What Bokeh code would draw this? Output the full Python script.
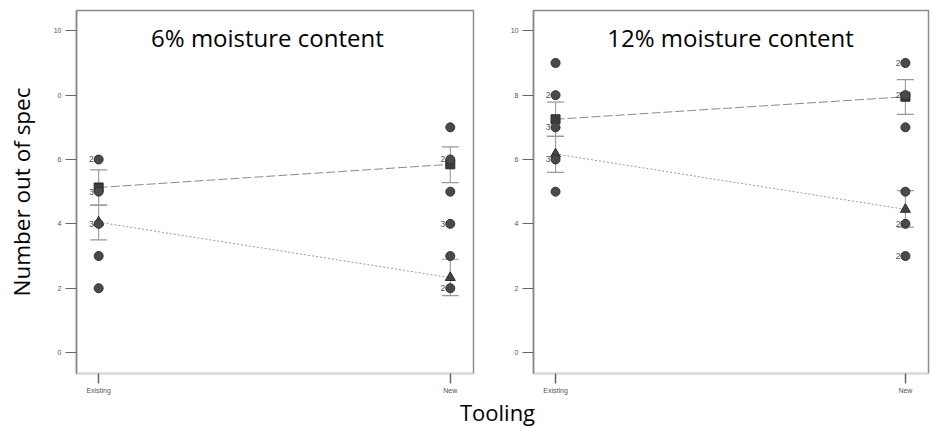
from bokeh.plotting import figure
from bokeh.models import FixedTicker, Label, ColumnDataSource
from bokeh.layouts import row, column
from bokeh.embed import file_html
from bokeh.resources import INLINE

# ---------------- data ----------------
tooling = ["Existing", "New"]
moisture = ["6% moisture content", "12% moisture content"]
y_ticks = [0, 2, 4, 6, 8, 10]

# observed values (circles) and how many runs share each value
obs6_existing = [6, 5, 4, 3, 2]
n6_existing = [2, 3, 3, 1, 1]
obs6_new = [7, 6, 5, 4, 3, 2]
n6_new = [1, 2, 1, 3, 1, 2]
obs12_existing = [9, 8, 7, 6, 5]
n12_existing = [1, 2, 3, 3, 1]
obs12_new = [9, 8, 7, 5, 4, 3]
n12_new = [2, 2, 1, 1, 2, 2]

# group means (square / dashed and triangle / dotted) with error bars
mean_sq_6 = [5.13, 5.85]
lo_sq_6 = [4.58, 5.28]
hi_sq_6 = [5.68, 6.39]
mean_tri_6 = [4.05, 2.33]
lo_tri_6 = [3.50, 1.77]
hi_tri_6 = [4.58, 2.90]

mean_sq_12 = [7.25, 7.95]
lo_sq_12 = [6.72, 7.40]
hi_sq_12 = [7.78, 8.48]
mean_tri_12 = [6.17, 4.45]
lo_tri_12 = [5.60, 3.90]
hi_tri_12 = [6.72, 5.03]

FONT = "Open Sans"
TICKFONT = "Liberation Sans"
PANEL_H = 396


def panel(title, title_x, obs_e, n_e, obs_n, n_n, msq, lsq, hsq, mtr, ltr, htr,
          width, border_left, border_right, border_top, ylabel=None, overrides=None):
    xs = list(range(len(tooling)))
    p = figure(width=width, height=PANEL_H, output_backend="svg", toolbar_location=None,
               x_range=(-0.063, 1.066), y_range=(-0.65, 10.63),
               min_border_left=border_left, min_border_right=border_right,
               min_border_top=border_top, min_border_bottom=PANEL_H - 374)
    p.grid.visible = False
    p.outline_line_color = "#8c8c8c"
    p.outline_line_width = 1.5
    p.background_fill_color = "white"
    p.border_fill_color = "white"

    # x axis
    p.xaxis.ticker = FixedTicker(ticks=xs)
    p.xaxis.major_label_overrides = {i: t for i, t in enumerate(tooling)}
    p.xaxis.minor_tick_line_color = None
    p.xaxis.major_tick_in = 0
    p.xaxis.major_tick_out = 10
    p.xaxis.major_tick_line_color = "#666666"
    p.xaxis.major_tick_line_width = 1.5
    p.xaxis.axis_line_color = "#dddddd"
    p.xaxis.axis_line_width = 2
    p.xaxis.major_label_text_font = TICKFONT
    p.xaxis.major_label_text_font_size = "7px"
    p.xaxis.major_label_text_color = "#555555"
    p.xaxis.major_label_standoff = 3

    # y axis
    p.yaxis.ticker = FixedTicker(ticks=y_ticks)
    if overrides:
        p.yaxis.major_label_overrides = overrides
    p.yaxis.minor_tick_line_color = None
    p.yaxis.major_tick_in = 0
    p.yaxis.major_tick_out = 11
    p.yaxis.major_tick_line_color = "#666666"
    p.yaxis.major_tick_line_width = 1.2
    p.yaxis.axis_line_color = "#888888"
    p.yaxis.axis_line_width = 1.5
    p.yaxis.major_label_text_font = TICKFONT
    p.yaxis.major_label_text_font_size = "7px"
    p.yaxis.major_label_text_color = "#555555"
    p.yaxis.major_label_standoff = 4
    if ylabel:
        p.yaxis.axis_label = ylabel
        p.yaxis.axis_label_text_font = FONT
        p.yaxis.axis_label_text_font_size = "22.5px"
        p.yaxis.axis_label_text_font_style = "normal"
        p.yaxis.axis_label_text_color = "black"
        p.yaxis.axis_label_standoff = 14

    # connecting lines between group means
    p.line(xs, msq, line_color="#8a8a8a", line_width=1, line_dash="9 3")
    p.line(xs, mtr, line_color="#9a9a9a", line_width=1, line_dash="2 2")

    # error bars
    for lo, hi in ((lsq, hsq), (ltr, htr)):
        p.segment(x0=xs, y0=lo, x1=xs, y1=hi, line_color="#a0a0a0", line_width=1.2)
        p.scatter(xs + xs, lo + hi, marker="dash", size=17, line_color="#9a9a9a",
                  line_width=1.2)

    # means
    p.scatter(xs, msq, marker="square", size=9, fill_color="#3c3c3c", line_color="#2a2a2a")
    p.scatter(xs, mtr, marker="triangle", size=10, fill_color="#444444", line_color="#2a2a2a")

    # observations
    ox = [xs[0]] * len(obs_e) + [xs[1]] * len(obs_n)
    oy = obs_e + obs_n
    on = n_e + n_n
    p.scatter(ox, oy, marker="circle", size=9, fill_color="#4a4a4a", line_color="#333333")
    lab = ColumnDataSource(dict(
        x=[x for x, n in zip(ox, on) if n > 1],
        y=[y for y, n in zip(oy, on) if n > 1],
        t=[str(n) for n in on if n > 1]))
    p.text(x="x", y="y", text="t", source=lab, x_offset=-5, text_align="right",
           text_baseline="middle", text_font_size="8.5px", text_color="#505050",
           text_font={"value": TICKFONT})

    # panel title
    p.add_layout(Label(x=title_x, y=9.78, text=title, text_align="center",
                       text_baseline="alphabetic", text_font=FONT,
                       text_font_size="24px", text_color="black"))
    return p


left = panel(moisture[0], 0.48, obs6_existing, n6_existing, obs6_new, n6_new,
             mean_sq_6, lo_sq_6, hi_sq_6, mean_tri_6, lo_tri_6, hi_tri_6,
             width=480, border_left=76, border_right=7, border_top=8,
             ylabel="Number out of spec", overrides={8: "0"})
right = panel(moisture[1], 0.5, obs12_existing, n12_existing, obs12_new, n12_new,
              mean_sq_12, lo_sq_12, hi_sq_12, mean_tri_12, lo_tri_12, hi_tri_12,
              width=453, border_left=53, border_right=5, border_top=10)

BOTTOM_H = 429 - PANEL_H
bottom = figure(width=933, height=BOTTOM_H, output_backend="svg", toolbar_location=None,
                x_range=(0, 933), y_range=(0, BOTTOM_H), min_border=0,
                x_axis_location=None, y_axis_location=None)
bottom.grid.visible = False
bottom.outline_line_color = None
bottom.add_layout(Label(x=497, y=BOTTOM_H - 15, text="Tooling", text_align="center",
                        text_baseline="middle", text_font=FONT,
                        text_font_size="22px", text_color="black"))

layout = column(row(left, right), bottom)
open("out.html", "w").write(file_html(layout, INLINE))
